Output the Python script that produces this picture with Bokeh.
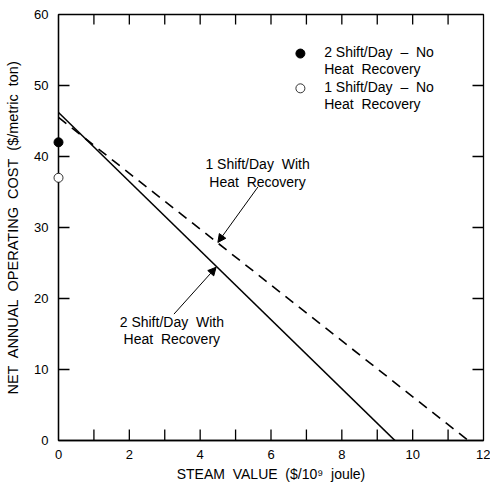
from bokeh.plotting import figure
from bokeh.models import Range1d, LinearAxis, FixedTicker, Arrow, NormalHead
from bokeh.core.properties import value
from bokeh.embed import file_html
from bokeh.resources import INLINE

# ---- data ----
steam_2shift_hr = [0, 9.5]        # 2 Shift/Day With Heat Recovery (solid)
cost_2shift_hr = [46.2, 0]
steam_1shift_hr = [0, 11.57]      # 1 Shift/Day With Heat Recovery (dashed)
cost_1shift_hr = [45.5, 0]
steam_2shift_nohr = [0]           # 2 Shift/Day - No Heat Recovery (filled)
cost_2shift_nohr = [42]
steam_1shift_nohr = [0]           # 1 Shift/Day - No Heat Recovery (open)
cost_1shift_nohr = [37]

x_major = [0, 2, 4, 6, 8, 10, 12]
x_minor = [1, 3, 5, 7, 9, 11]
y_major = [0, 10, 20, 30, 40, 50, 60]

FONT = "Liberation Sans"
INK = "#000000"
NB = "\u00a0"

W, H = 490, 484
BL, BR, BT, BB = 58, 7, 14, 44
FW, FH = W - BL - BR, H - BT - BB

p = figure(width=W, height=H, x_range=Range1d(0, 12), y_range=Range1d(0, 60),
           output_backend="svg", toolbar_location=None,
           min_border_left=BL, min_border_right=BR, min_border_top=BT, min_border_bottom=BB,
           x_axis_location=None, y_axis_location=None)
p.grid.visible = False
p.outline_line_color = INK
p.outline_line_width = 1.3
p.background_fill_color = "white"
p.border_fill_color = "white"

def style_axis(ax):
    ax.axis_line_color = INK
    ax.axis_line_width = 1.3
    ax.major_tick_out = 0
    ax.minor_tick_out = 0
    ax.major_tick_in = 0
    ax.minor_tick_in = 0
    ax.major_label_text_font = FONT
    ax.major_label_text_font_size = "13px"
    ax.major_label_text_color = INK
    ax.axis_label_text_font = FONT
    ax.axis_label_text_font_style = "normal"
    ax.axis_label_text_color = INK

# bottom
xb = LinearAxis(ticker=FixedTicker(ticks=x_major, minor_ticks=x_minor))
style_axis(xb)
xb.major_label_standoff = 9
xb.axis_label = f"STEAM{NB} VALUE{NB} ($/10⁹{NB} joule)"
xb.axis_label_text_font_size = "14px"
xb.axis_label_standoff = 4
p.add_layout(xb, "below")

# left
yl = LinearAxis(ticker=FixedTicker(ticks=y_major, minor_ticks=[]))
style_axis(yl)
yl.major_label_standoff = 10
yl.axis_label = f"NET{NB} ANNUAL{NB} OPERATING{NB} COST{NB} ($/metric{NB} ton)"
yl.axis_label_text_font_size = "14.5px"
yl.axis_label_standoff = 10
p.add_layout(yl, "left")

# inward tick marks on all four sides (pixel lengths converted to data units)
dx = 12 / FW
dy = 60 / FH
xt_all = sorted(x_major[1:-1] + x_minor)
yt_in = y_major[1:-1]
TW = 1.3
p.segment(x0=xt_all, y0=[0] * len(xt_all), x1=xt_all, y1=[11 * dy] * len(xt_all),
          line_color=INK, line_width=TW)
p.segment(x0=xt_all, y0=[60] * len(xt_all), x1=xt_all, y1=[60 - 10 * dy] * len(xt_all),
          line_color=INK, line_width=TW)
p.segment(x0=[0] * len(yt_in), y0=yt_in, x1=[11 * dx] * len(yt_in), y1=yt_in,
          line_color=INK, line_width=TW)
p.segment(x0=[12] * len(yt_in), y0=yt_in, x1=[12 - 11 * dx] * len(yt_in), y1=yt_in,
          line_color=INK, line_width=TW)

# lines
p.line(steam_2shift_hr, cost_2shift_hr, line_color=INK, line_width=1.6)
p.line(steam_1shift_hr, cost_1shift_hr, line_color=INK, line_width=1.6, line_dash="10 7")

# points at x=0
p.scatter(steam_2shift_nohr, cost_2shift_nohr, marker="circle", size=9,
          fill_color=INK, line_color=INK, level="overlay")
p.scatter(steam_1shift_nohr, cost_1shift_nohr, marker="circle", size=9,
          fill_color="white", line_color=INK, line_width=0.8, level="overlay")

# legend (manual)
p.scatter([6.83], [54.5], marker="circle", size=9, fill_color=INK, line_color=INK)
p.scatter([6.83], [49.6], marker="circle", size=9, fill_color="white", line_color=INK, line_width=0.8)
p.text(x=[7.5, 7.5], y=[53.5, 48.6],
       text=[f"2 Shift/Day {NB}–{NB} No\nHeat{NB} Recovery", f"1 Shift/Day {NB}–{NB} No\nHeat{NB} Recovery"],
       text_font=value(FONT), text_font_size="14px", text_color=INK,
       text_align="left", text_baseline="middle", text_line_height=1.1)

# annotations
p.text(x=[5.62, 3.2], y=[37.7, 15.5],
       text=[f"1 Shift/Day{NB} With\nHeat{NB} Recovery", f"2 Shift/Day{NB} With\nHeat{NB} Recovery"],
       text_font=value(FONT), text_font_size="14px", text_color=INK,
       text_align="center", text_baseline="middle", text_line_height=1.1)

p.add_layout(Arrow(x_start=5.63, y_start=35.7, x_end=4.5, y_end=27.9,
                   line_color=INK, line_width=1,
                   end=NormalHead(size=8, fill_color=INK, line_color=INK)))
p.add_layout(Arrow(x_start=3.26, y_start=17.8, x_end=4.45, y_end=24.4,
                   line_color=INK, line_width=1,
                   end=NormalHead(size=8, fill_color=INK, line_color=INK)))

open("out.html", "w").write(file_html(p, INLINE))
